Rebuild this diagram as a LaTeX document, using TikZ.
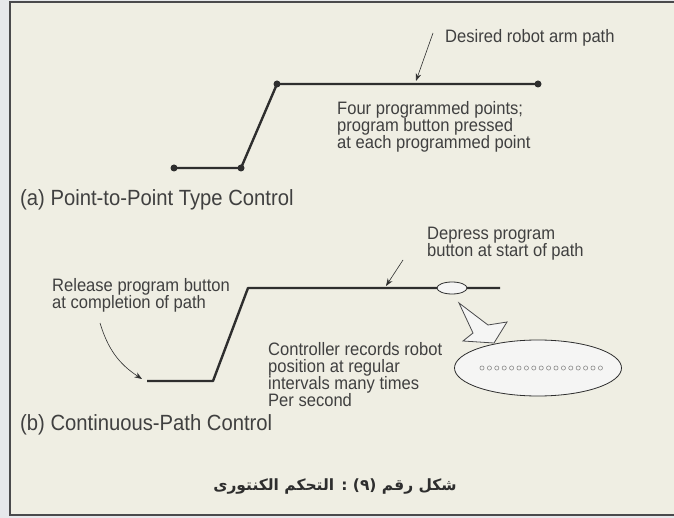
\documentclass[tikz,border=0pt]{standalone}
\usepackage{fontspec}
\setmainfont{Liberation Sans}
\newfontfamily\notefont[FakeStretch=0.92]{Liberation Sans}
\newfontfamily\arabicfont[Script=Arabic]{DejaVu Sans}
\TeXXeTstate=1
\usepackage{xcolor}
\usetikzlibrary{positioning, arrows.meta, calc, shapes.geometric}
\definecolor{rpInk}{HTML}{2E2E2E}
\definecolor{rpText}{HTML}{404040}
\definecolor{rpPaper}{HTML}{EFEEE3}
\definecolor{rpEdge}{HTML}{E6E8EB}
\definecolor{rpFrame}{HTML}{4A4A4C}
\definecolor{rpBubble}{HTML}{F5F5F4}
\definecolor{rpDots}{HTML}{8A8A8A}
\tikzset{
  note/.style ={align=left, inner sep=0pt, text=rpText, font=\notefont\fontsize{18}{17}\selectfont},
  partlabel/.style={inner sep=0pt, text=rpText, font=\notefont\fontsize{22}{22}\selectfont},
  trace/.style={line width=2.4pt, rpInk, line join=round},
  pt/.style   ={circle, fill=rpInk, inner sep=0pt, minimum size=7pt},
  ptr/.style  ={-{Stealth[length=7.5pt, width=5.5pt]}, line width=0.6pt, rpInk},
  bub/.style  ={ellipse, draw=rpInk, line width=0.8pt, fill=rpBubble, inner sep=0pt},
}

\begin{document}
\begin{tikzpicture}[x=1pt, y=-1pt]
\useasboundingbox (0,0) rectangle (674,518);
\fill[rpEdge] (0,0) rectangle (674,518);
\fill[rpPaper] (10,2) rectangle (674,515);
\draw[rpFrame, line width=2.5pt] (674,2) -- (10,2) -- (10,515) -- (674,515);

% ---- (a) point-to-point ----
\node[pt] (a1) at (174,168) {};
\node[pt] (a2) at (241,168) {};
\node[pt] (a3) at (277,84) {};
\node[pt] (a4) at (538,84) {};
\draw[trace] (a1.center) -- (a2.center) -- (a3.center) -- (a4.center);

\node[note, anchor=west] (desired) at (445,38) {Desired robot arm path};
\coordinate (dfrom) at (433,33);
\coordinate (dtip) at (416,81);
\draw[ptr] (dfrom) -- (dtip);

\node[note, anchor=north west] (four) at (337,101)
  {Four programmed points;\\program button pressed\\at each programmed point};
\node[partlabel, anchor=west] (capa) at (20,200) {(a) Point-to-Point Type Control};

% ---- (b) continuous path ----
\coordinate (b1) at (147,381);
\coordinate (b2) at (213,381);
\coordinate (b3) at (248,288);
\coordinate (b4) at (500,288);
\draw[trace] (b1) -- (b2) -- (b3) -- (b4);
\node[bub, minimum width=30pt, minimum height=12pt] (start) at (452,288) {};

\node[note, anchor=north west] (depress) at (427,227)
  {Depress program\\button at start of path};
\coordinate (pfrom) at (403,260);
\coordinate (ptip) at (386,286);
\draw[ptr] (pfrom) -- (ptip);

\node[note, anchor=north west] (release) at (52,278)
  {Release program button\\at completion of path};
\coordinate (rfrom) at (100,323);
\coordinate (rtip) at (142,379);
\draw[ptr] (rfrom) to[bend right=20] (rtip);

\node[note, anchor=north west] (records) at (268,342)
  {Controller records robot\\position at regular\\intervals many times\\Per second};

% ---- recorded samples ----
\node[bub, minimum width=167pt, minimum height=56pt] (samples) at (538,368) {};
\foreach \i in {0,...,16}{
  \draw[rpDots, line width=0.6pt] (482+7.4*\i,368) circle (2.1pt);
}
\draw[rpFrame, line width=0.8pt, fill=rpBubble, line join=miter]
  (459,303) -- (488,325) -- (507,322) -- (494,343) -- (463,341) -- (473,333) -- cycle;

\node[partlabel, anchor=west] (capb) at (20,425) {(b) Continuous-Path Control};

% ---- caption ----
\node[inner sep=0pt, text=rpInk, font=\arabicfont\bfseries\fontsize{15.5}{18}\selectfont] (title) at (335,487)
  {\beginR شكل رقم (٩) : التحكم الكنتورى\endR};
\end{tikzpicture}
\end{document}
